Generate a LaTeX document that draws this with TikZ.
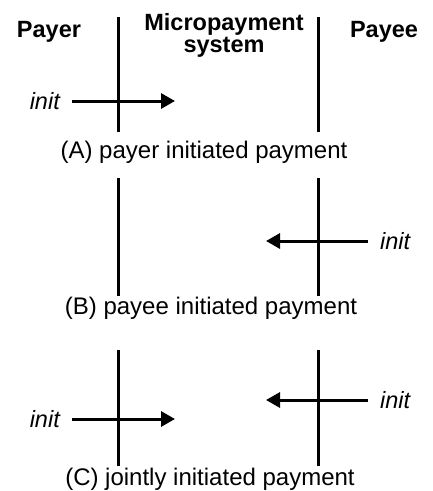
\documentclass[tikz,border=0pt]{standalone}
\usepackage{fontspec}
\setmainfont{Liberation Sans}
\usetikzlibrary{arrows.meta}

\begin{document}
\begin{tikzpicture}[x=1pt,y=-1pt,
  lifeline/.style={line width=3pt},
  msg/.style={line width=3pt,-{Triangle[length=14pt,width=15pt]}},
  head/.style={font=\fontsize{23.5}{26}\selectfont\bfseries,anchor=base,inner sep=0pt},
  caption/.style={font=\fontsize{24}{26}\selectfont,anchor=base,inner sep=0pt},
  initlabel/.style={font=\fontsize{23.5}{26}\selectfont\itshape,inner sep=0pt}]
\useasboundingbox (0,0) rectangle (433,491);

% column headings
\node[head] (payer) at (49,37) {Payer};
\node[head] (micro) at (224,30) {Micropayment};
\node[head] (system) at (224,52) {system};
\node[head] (payee) at (384,37) {Payee};

% (A) payer initiated payment
\coordinate (aLt) at (118,17);  \coordinate (aLb) at (118,132);
\coordinate (aRt) at (318,17);  \coordinate (aRb) at (318,132);
\draw[lifeline] (aLt) -- (aLb);
\draw[lifeline] (aRt) -- (aRb);
\node[initlabel,anchor=east] (initA) at (60,101) {init};
\coordinate (aFrom) at (72,101); \coordinate (aTo) at (175,101);
\draw[msg] (aFrom) -- (aTo);
\node[caption] (capA) at (204,158) {(A) payer initiated payment};

% (B) payee initiated payment
\coordinate (bLt) at (118,178);  \coordinate (bLb) at (118,296);
\coordinate (bRt) at (318,178);  \coordinate (bRb) at (318,296);
\draw[lifeline] (bLt) -- (bLb);
\draw[lifeline] (bRt) -- (bRb);
\node[initlabel,anchor=west] (initB) at (380,241) {init};
\coordinate (bFrom) at (368,241); \coordinate (bTo) at (266,241);
\draw[msg] (bFrom) -- (bTo);
\node[caption] (capB) at (211,314) {(B) payee initiated payment};

% (C) jointly initiated payment
\coordinate (cLt) at (118,350);  \coordinate (cLb) at (118,466);
\coordinate (cRt) at (318,350);  \coordinate (cRb) at (318,466);
\draw[lifeline] (cLt) -- (cLb);
\draw[lifeline] (cRt) -- (cRb);
\node[initlabel,anchor=east] (initC1) at (60,419) {init};
\coordinate (c1From) at (72,419); \coordinate (c1To) at (175,419);
\draw[msg] (c1From) -- (c1To);
\node[initlabel,anchor=west] (initC2) at (380,400) {init};
\coordinate (c2From) at (368,400); \coordinate (c2To) at (266,400);
\draw[msg] (c2From) -- (c2To);
\node[caption] (capC) at (210,485) {(C) jointly initiated payment};
\end{tikzpicture}
\end{document}
